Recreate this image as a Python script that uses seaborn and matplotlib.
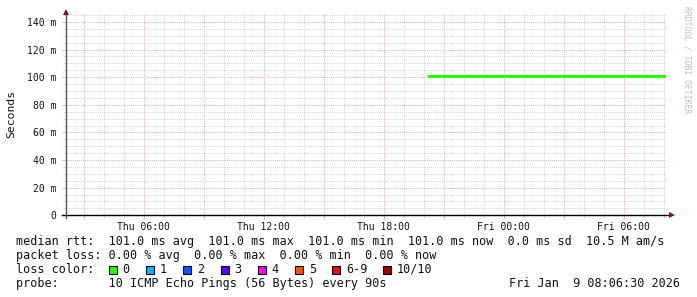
import matplotlib
matplotlib.use("Agg")
import matplotlib.pyplot as plt
import matplotlib.dates as mdates
from matplotlib.ticker import MultipleLocator, FuncFormatter
from matplotlib.patches import Rectangle
import pandas as pd
import seaborn as sns

# ---- data ----
median_times = ["2026-01-08 20:16:30", "2026-01-09 08:06:30"]
median_rtt_ms = [101.0, 101.0]
x_start = "2026-01-08 02:06:30"
x_end = "2026-01-09 08:06:30"
y_max_ms = 146.5

stats_lines = [
    "median rtt:  101.0 ms avg  101.0 ms max  101.0 ms min  101.0 ms now  0.0 ms sd  10.5 M am/s",
    "packet loss: 0.00 % avg  0.00 % max  0.00 % min  0.00 % now",
]
loss_labels = ["0", "1", "2", "3", "4", "5", "6-9", "10/10"]
loss_colors = ["#26ff00", "#00b8ff", "#0059ff", "#5e00ff", "#ff00ff", "#ff5500", "#ff0000", "#a10000"]
probe_text = "probe:       10 ICMP Echo Pings (56 Bytes) every 90s"
date_text = "Fri Jan  9 08:06:30 2026"
watermark = "RRDTOOL / TOBI OETIKER"

df = pd.DataFrame({"time": pd.to_datetime(median_times), "rtt": median_rtt_ms})

MONO = "DejaVu Sans Mono"
W, H = 697, 297
fig = plt.figure(figsize=(W / 100, H / 100), dpi=100)
fig.patch.set_facecolor("white")

px_left, px_right, px_bottom, px_top = 66, 666, 215.3, 13
ax = fig.add_axes([px_left / W, (H - px_bottom) / H,
                   (px_right - px_left) / W, (px_bottom - px_top) / H])
ax.set_facecolor("white")

ax.set_xlim(pd.Timestamp(x_start), pd.Timestamp(x_end))
ax.set_ylim(0, y_max_ms)

# grids
red = "#e6b4b4"
gray = "#d6d6d6"
ax.xaxis.set_major_locator(mdates.HourLocator(byhour=range(0, 24, 3)))
ax.xaxis.set_minor_locator(mdates.HourLocator())
ax.xaxis.set_major_formatter(FuncFormatter(
    lambda v, p: mdates.num2date(v).strftime("%a %H:%M") if mdates.num2date(v).hour % 6 == 0 else ""))
ax.yaxis.set_major_locator(MultipleLocator(20))
ax.yaxis.set_minor_locator(MultipleLocator(5))
ax.yaxis.set_major_formatter(FuncFormatter(lambda v, p: "0" if v == 0 else f"{int(round(v))} m"))

ax.grid(which="minor", color=gray, linestyle=(0, (1, 1)), linewidth=0.75)
ax.grid(which="major", color=red, linestyle=(0, (1, 1)), linewidth=0.75)
ax.set_axisbelow(True)

sns.lineplot(data=df, x="time", y="rtt", color="#26ff00", linewidth=2.1, ax=ax, zorder=5)
ax.set_xlabel("")
ax.set_ylabel("")

for s in ["top", "right", "left", "bottom"]:
    ax.spines[s].set_visible(False)

ax.tick_params(axis="both", which="major", length=3, width=0.75, color=red,
               labelsize=7, labelcolor="#111111", pad=2)
ax.tick_params(axis="both", which="minor", length=2, width=0.75, color=gray)
ax.tick_params(axis="y", which="major", pad=4)
for lab in ax.get_xticklabels() + ax.get_yticklabels():
    lab.set_fontfamily(MONO)

# axis lines with arrows
axw = px_right - px_left
axh = px_bottom - px_top
ax.plot([-4 / axw, 1 + 4 / axw], [0, 0], color="#000000", lw=1.0, clip_on=False,
        transform=ax.transAxes, zorder=6)
ax.plot([0, 0], [-3 / axh, 1 + 1 / axh], color="#555555", lw=1.0, clip_on=False,
        transform=ax.transAxes, zorder=6)
ax.plot([1 + 6 / axw], [0], marker=">", color="#8b1010", markersize=4.5, clip_on=False,
        transform=ax.transAxes, zorder=7, markeredgewidth=0)
ax.plot([0], [1 + 1 / axh], marker="^", color="#8b1010", markersize=4.5, clip_on=False,
        transform=ax.transAxes, zorder=7, markeredgewidth=0)

# y label
fig.text(11 / W, 1 - 114 / H, "Seconds", rotation=90, ha="center", va="center",
         fontsize=8.2, family=MONO, color="#111111")

# watermark
fig.text(687 / W, 1 - 60 / H, watermark, rotation=270, ha="center", va="center",
         fontsize=5.8, family=MONO, color="#c0c0c0")

# footer text
fs = 8.45
fig.text(16 / W, 1 - 241.7 / H, stats_lines[0], ha="left", va="center", fontsize=fs, family=MONO, color="#111111")
fig.text(16 / W, 1 - 255.7 / H, stats_lines[1], ha="left", va="center", fontsize=fs, family=MONO, color="#111111")
fig.text(16 / W, 1 - 269.5 / H, "loss color:", ha="left", va="center", fontsize=fs, family=MONO, color="#111111")
fig.text(16 / W, 1 - 283.3 / H, probe_text, ha="left", va="center", fontsize=fs, family=MONO, color="#111111")
fig.text(680 / W, 1 - 283.3 / H, date_text, ha="right", va="center", fontsize=fs, family=MONO, color="#111111")

sq_x = [108.5, 146.0, 183.5, 220.6, 257.6, 294.7, 331.8, 383.1]
for x0, lab, col in zip(sq_x, loss_labels, loss_colors):
    fig.patches.append(Rectangle((x0 / W, 1 - 273.5 / H), 8 / W, 8 / H, transform=fig.transFigure,
                                 facecolor=col, edgecolor="#000000", linewidth=0.8))
    fig.text((x0 + 14) / W, 1 - 269.5 / H, lab, ha="left", va="center", fontsize=fs, family=MONO, color="#111111")

fig.savefig("out.png", dpi=100, facecolor="white")
